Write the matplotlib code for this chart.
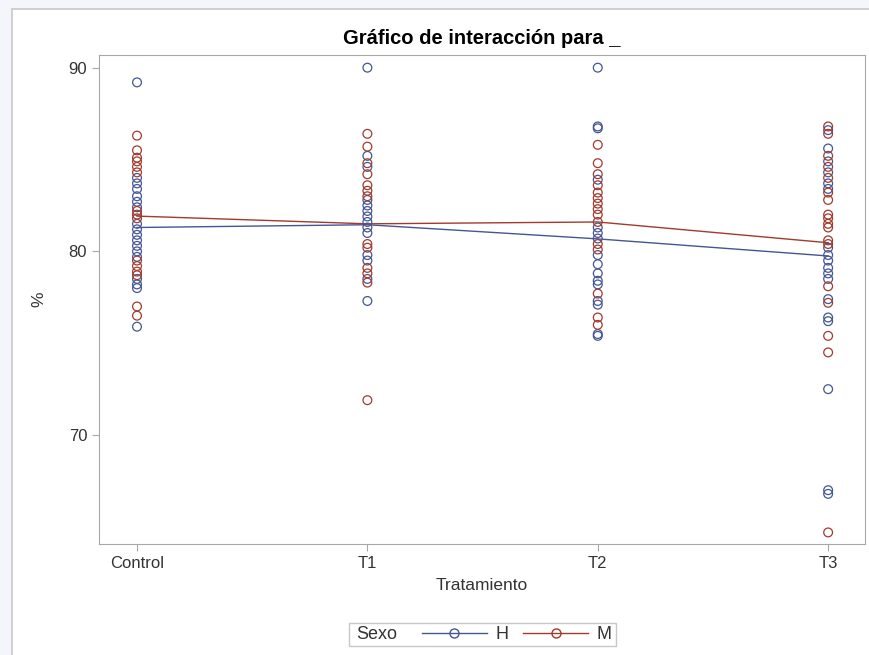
import numpy as np
import matplotlib
matplotlib.use("Agg")
import matplotlib.pyplot as plt
from matplotlib.lines import Line2D
from matplotlib.patches import Rectangle

plt.rcParams['font.family'] = ['Liberation Sans', 'DejaVu Sans']

# Datos
tratamientos = ['Control', 'T1', 'T2', 'T3']

h_control = [89.2, 84.0, 83.7, 83.4, 83.0, 82.7, 82.4, 81.5, 81.2, 80.9, 80.6,
             80.3, 80.0, 79.7, 78.5, 78.2, 78.0, 75.9]
m_control = [86.3, 85.5, 85.1, 84.9, 84.6, 84.3, 82.2, 82.0, 81.8, 79.5, 79.2,
             78.9, 78.7, 77.0, 76.5]

h_t1 = [90.0, 85.2, 84.6, 82.8, 82.5, 82.2, 81.9, 81.6, 81.3, 81.0, 79.8,
        79.5, 78.5, 77.3]
m_t1 = [86.4, 85.7, 84.8, 84.2, 83.6, 83.3, 83.0, 80.4, 80.2, 79.1, 78.8,
        78.3, 71.9]

h_t2 = [90.0, 86.8, 86.7, 83.9, 81.3, 81.0, 80.7, 79.8, 79.3, 78.8, 78.4,
        78.2, 77.3, 77.1, 75.5, 75.4]
m_t2 = [85.8, 84.8, 84.2, 83.6, 83.2, 82.9, 82.6, 82.3, 82.0, 81.6, 80.4,
        80.1, 77.7, 76.4, 76.0]

h_t3 = [86.6, 85.6, 84.9, 84.3, 83.7, 83.4, 80.2, 79.8, 79.5, 79.1, 78.8,
        78.5, 77.4, 76.4, 76.2, 72.5, 67.0, 66.8]
m_t3 = [86.8, 86.4, 85.2, 84.6, 84.0, 83.2, 82.8, 82.0, 81.8, 81.5, 81.3,
        80.6, 80.4, 78.1, 77.2, 75.4, 74.5, 64.7]

media_h = [81.3, 81.45, 80.68, 79.75]
media_m = [81.92, 81.5, 81.6, 80.47]

azul = '#445694'
rojo = '#A23A2E'
W, H = 870, 655

fig = plt.figure(figsize=(8.7, 6.55), dpi=100)
fig.patch.set_facecolor('#f4f6fb')
# panel blanco con borde gris
fig.patches.append(Rectangle((12 / W, -0.01), 1.0, 1 - 9 / H + 0.01,
                             transform=fig.transFigure, facecolor='white',
                             edgecolor='#c8c8c8', linewidth=1.2, zorder=-5))

ax = fig.add_axes([99 / W, 1 - 544 / H, (865 - 99) / W, (544 - 55) / H])
ax.set_zorder(2)

x = np.arange(len(tratamientos))
grupos_h = [h_control, h_t1, h_t2, h_t3]
grupos_m = [m_control, m_t1, m_t2, m_t3]

for i in range(len(tratamientos)):
    ax.scatter([x[i]] * len(grupos_h[i]), grupos_h[i], s=40, facecolors='none',
               edgecolors=azul, linewidths=0.9, zorder=3)
    ax.scatter([x[i]] * len(grupos_m[i]), grupos_m[i], s=40, facecolors='none',
               edgecolors=rojo, linewidths=0.9, zorder=3)

ax.plot(x, media_h, color=azul, linewidth=1.0, zorder=2)
ax.plot(x, media_m, color=rojo, linewidth=1.0, zorder=2)

ax.set_xlim(-0.165, 3.16)
ax.set_ylim(64.07, 90.69)
ax.set_xticks(x)
ax.set_xticklabels(tratamientos)
ax.set_yticks([70, 80, 90])

for s in ax.spines.values():
    s.set_color('#a8a8a8')
ax.tick_params(colors='#a8a8a8', labelcolor='#333333', labelsize=12, length=5)

ax.set_xlabel('Tratamiento', fontsize=12.5, color='#333333', labelpad=5)
ax.set_ylabel('%', fontsize=12.5, color='#333333', labelpad=16)
ax.set_title('Gráfico de interacción para _', fontsize=14.5, fontweight='bold',
             color='black', pad=8)

# leyenda: marco, titulo "Sexo" y entradas H / M
fig.patches.append(Rectangle((349 / W, 1 - 646 / H), (616 - 349) / W, 23 / H,
                             transform=fig.transFigure, facecolor='white',
                             edgecolor='#c8c8c8', linewidth=1.0, zorder=1))
fig.text(356 / W, 1 - 634.5 / H, 'Sexo', fontsize=13, color='#333333',
         va='center', ha='left', zorder=3)
handles = [Line2D([0], [0], color=azul, lw=1.0, marker='o', mfc='none', mec=azul, ms=6.5),
           Line2D([0], [0], color=rojo, lw=1.0, marker='o', mfc='none', mec=rojo, ms=6.5)]
leg = fig.legend(handles, ['H', 'M'], loc='center left',
                 bbox_to_anchor=(422 / W, 1 - 634.5 / H), ncol=2, fontsize=13,
                 frameon=False, handlelength=3.6, columnspacing=0.83,
                 handletextpad=0.45, borderpad=0, borderaxespad=0)
leg.set_zorder(3)
for t in leg.get_texts():
    t.set_color('#333333')

fig.savefig('out.png', dpi=100, facecolor=fig.get_facecolor())
